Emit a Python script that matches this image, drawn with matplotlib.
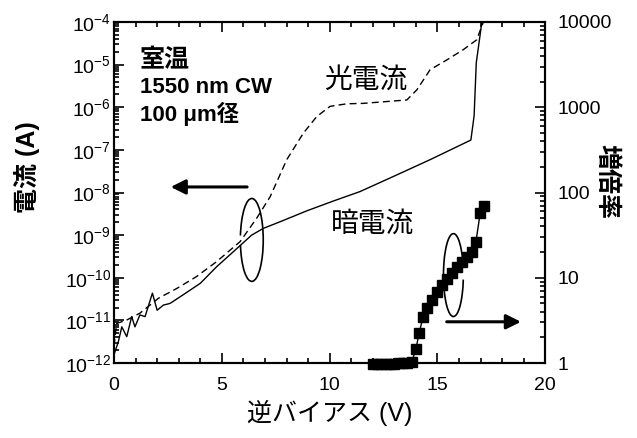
import numpy as np
import matplotlib
matplotlib.use("Agg")
import matplotlib.pyplot as plt
from matplotlib.patches import Arc
from matplotlib.ticker import LogLocator, NullFormatter

plt.rcParams['font.family'] = ['Liberation Sans', 'Noto Sans CJK JP']
plt.rcParams['mathtext.fontset'] = 'custom'
plt.rcParams['mathtext.rm'] = 'Liberation Sans'
plt.rcParams['mathtext.it'] = 'Liberation Sans'

# 暗電流 (A)
dark_v = [0.0, 0.2, 0.36, 0.59, 0.82, 0.97, 1.2, 1.44, 1.78, 2.0, 2.29, 2.6, 3.2, 4.0,
          4.76, 5.53, 6.38, 6.93, 7.78, 8.94, 10.17, 11.4, 12.8, 14.66, 16.55, 16.7, 16.8, 17.06]
dark_log = [-11.8, -11.5, -11.15, -11.38, -10.91, -11.15, -10.87, -10.91, -10.36, -10.76,
            -10.64, -10.6, -10.4, -10.13, -9.74, -9.39, -9.0, -8.84, -8.67, -8.43, -8.2,
            -7.98, -7.66, -7.23, -6.77, -6.2, -4.96, -4.0]
# 光電流 (A)
photo_v = [0.0, 0.12, 0.59, 1.2, 2.06, 2.91, 3.83, 4.76, 5.85, 6.62, 7.24, 8.01, 8.78,
           9.4, 10.02, 10.8, 11.57, 13.58, 14.05, 14.66, 15.44, 16.2, 16.82, 17.13]
photo_log = [-11.6, -11.07, -10.99, -10.83, -10.48, -10.25, -9.97, -9.62, -9.15, -8.6,
             -8.1, -7.23, -6.61, -6.22, -5.98, -5.92, -5.91, -5.83, -5.59, -5.12, -4.89,
             -4.65, -4.42, -4.0]
# 増倍率
gain_v = [12.0, 12.2, 12.4, 12.6, 12.8, 13.0, 13.2, 13.4, 13.6, 13.8, 14.0, 14.15, 14.34,
          14.5, 14.74, 14.97, 15.2, 15.44, 15.67, 15.9, 16.13, 16.36, 16.6, 16.78, 16.98, 17.17]
gain = [0.97, 0.97, 0.97, 0.98, 0.98, 0.98, 0.99, 1.0, 1.0, 1.02, 1.45, 2.27, 3.5, 4.4,
        5.5, 6.9, 8.2, 9.8, 11.3, 13.5, 15.4, 17.7, 20.0, 26.0, 57.0, 69.0]

fig = plt.figure(figsize=(6.37, 4.38), dpi=100)
ax = fig.add_axes([0.179, 0.171, 0.677, 0.779])
ax2 = ax.twinx()

ax.plot(dark_v, 10.0 ** np.array(dark_log), color='black', lw=1.0)
ax.plot(photo_v, 10.0 ** np.array(photo_log), color='black', lw=1.0, ls=(0, (5, 3)))
ax2.plot(gain_v, gain, color='black', lw=1.0, marker='s', ms=6.5, clip_on=False, zorder=3)

ax.set_xlim(0, 20)
ax.set_yscale('log')
ax.set_ylim(1e-12, 1e-4)
ax2.set_yscale('log')
ax2.set_ylim(1, 1e4)

ax.set_xticks([0, 5, 10, 15, 20])
ax.set_xticks(np.arange(0, 21, 1), minor=True)
ax.set_yticks([10.0 ** k for k in range(-12, -3)])
ax.set_yticklabels([r'$10^{%d}$' % k for k in range(-12, -3)])
ax2.set_yticks([1, 10, 100, 1000, 10000])
ax2.set_yticklabels(['1', '10', '100', '1000', '10000'])
for a in (ax, ax2):
    a.yaxis.set_minor_locator(LogLocator(base=10, subs=np.arange(2, 10), numticks=100))
    a.yaxis.set_minor_formatter(NullFormatter())

for a in (ax, ax2):
    a.tick_params(which='both', direction='in', labelsize=14, width=1.2)
    a.tick_params(which='major', length=7)
    a.tick_params(which='minor', length=3.5)
    for s in a.spines.values():
        s.set_linewidth(1.5)
ax.tick_params(axis='x', top=True, which='both', pad=10)
ax.tick_params(axis='y', pad=2)
ax2.tick_params(axis='y', pad=9)

ax.set_xlabel('逆バイアス (V)', fontsize=18, labelpad=4)
ax.set_ylabel('電流 (A)', fontsize=18, fontweight='bold')
ax.yaxis.set_label_coords(-0.172, 0.575)
ax2.set_ylabel('増倍率', fontsize=18, fontweight='bold', rotation=270, va='center')
ax2.yaxis.set_label_coords(1.142, 0.531)

ax.text(0.06, 0.889, '室温', transform=ax.transAxes, fontsize=18, fontweight='bold', va='center')
ax.text(0.06, 0.809, '1550 nm CW', transform=ax.transAxes, fontsize=16, fontweight='bold', va='center')
ax.text(0.06, 0.729, '100 μm径', transform=ax.transAxes, fontsize=16, fontweight='bold', va='center')
ax.text(0.488, 0.827, '光電流', transform=ax.transAxes, fontsize=20, va='center')
ax.text(0.503, 0.405, '暗電流', transform=ax.transAxes, fontsize=20, va='center')

# 矢印 (どちらの軸か)
ax.annotate('', xy=(2.5, 10 ** -7.87), xytext=(6.3, 10 ** -7.87),
            arrowprops=dict(arrowstyle='-|>', color='black', lw=2.2, mutation_scale=22))
ax2.annotate('', xy=(19.0, 3.05), xytext=(15.3, 3.05),
             arrowprops=dict(arrowstyle='-|>', color='black', lw=2.2, mutation_scale=22))

# 楕円
ax.add_patch(Arc((0.3195, 0.361), 0.053, 0.243, theta1=209, theta2=514,
                 transform=ax.transAxes, color='black', lw=1.2))
ax2.add_patch(Arc((0.787, 0.258), 0.046, 0.243, theta1=60, theta2=330,
                  transform=ax.transAxes, color='black', lw=1.2, zorder=1))

fig.savefig('out.png', dpi=100)
